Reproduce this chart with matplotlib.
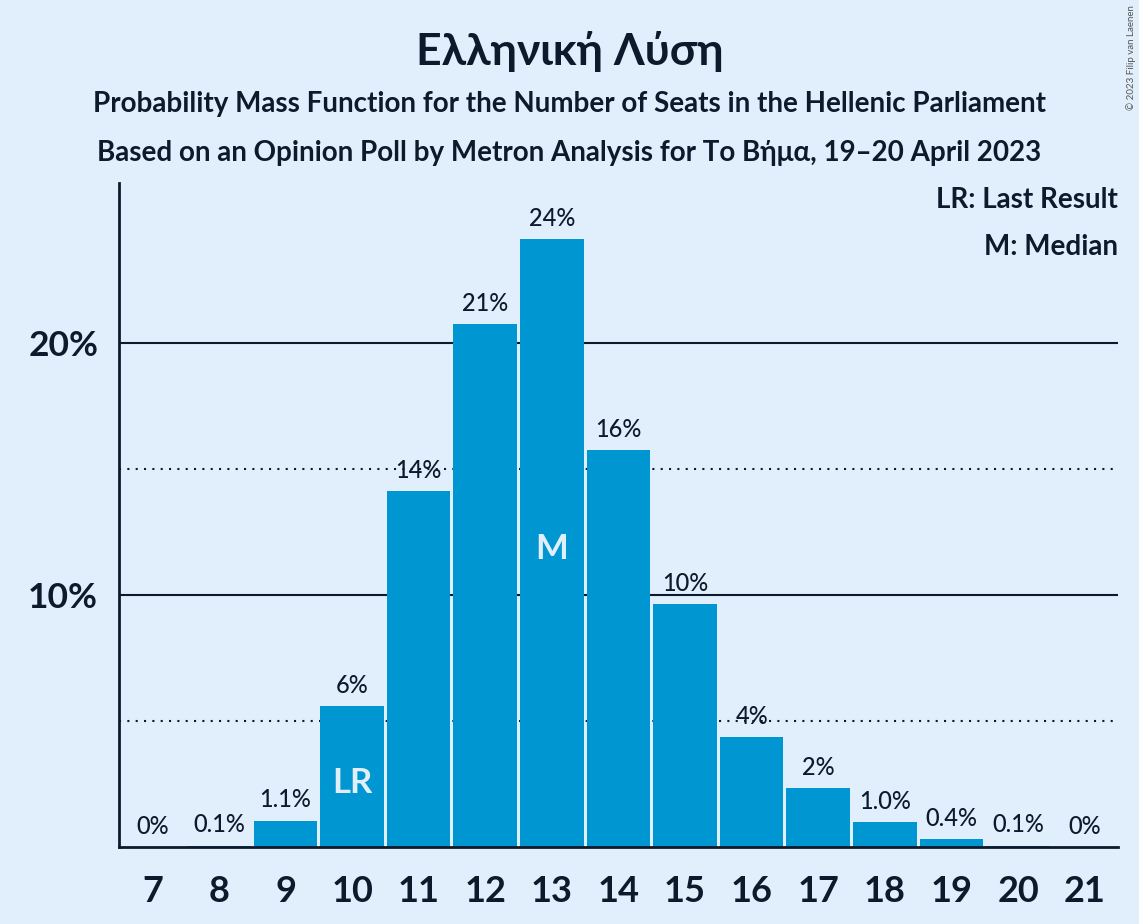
import matplotlib
matplotlib.use("Agg")
import matplotlib.pyplot as plt

seats = [7, 8, 9, 10, 11, 12, 13, 14, 15, 16, 17, 18, 19, 20, 21]
probs = [0.0, 0.06, 1.05, 5.58, 14.13, 20.75, 24.13, 15.75, 9.64, 4.37, 2.34, 0.98, 0.33, 0.06, 0.0]
labels = ["0%", "0.1%", "1.1%", "6%", "14%", "21%", "24%", "16%", "10%", "4%", "2%", "1.0%", "0.4%", "0.1%", "0%"]
last_result_seat = 10
median_seat = 13
ytick_vals = [10, 20]
ytick_labels = ["10%", "20%"]
minor_grid = [5, 15]

BG = "#E1EFFC"
BAR = "#0096D1"
TXT = "#0C1A2B"
FONT = ["Lato", "DejaVu Sans"]

plt.rcParams['font.family'] = FONT

fig = plt.figure(figsize=(11.39, 9.24), dpi=100, facecolor=BG)
ax = fig.add_axes([0.1045, 0.0833, 0.877, 0.7187])
ax.set_facecolor(BG)

for v in ytick_vals:
    ax.axhline(v, color=TXT, lw=1.5, zorder=1)
for v in minor_grid:
    ax.axhline(v, color=TXT, lw=1.5, ls=(0, (1, 3)), zorder=1)

ax.bar(seats, probs, width=0.955, color=BAR, zorder=2)

for s, p, lab in zip(seats, probs, labels):
    ax.annotate(lab, (s, p), xytext=(0, 9.5), textcoords="offset points",
                ha="center", va="baseline", fontsize=17, color=TXT,
                fontweight="medium", zorder=3)

i_lr = seats.index(last_result_seat)
ax.annotate("LR", (last_result_seat, probs[i_lr] / 2), xytext=(0, -4.5),
            textcoords="offset points", ha="center", va="center",
            fontsize=25, color=BG, fontweight="bold", zorder=3)
i_m = seats.index(median_seat)
ax.annotate("M", (median_seat, probs[i_m] / 2), xytext=(0, -4.5),
            textcoords="offset points", ha="center", va="center",
            fontsize=25, color=BG, fontweight="bold", zorder=3)

ax.set_xlim(6.5, 21.5)
ax.set_ylim(0, 26.35)
ax.set_xticks(seats)
ax.set_xticklabels([str(s) for s in seats], fontsize=26, fontweight="bold", color=TXT)
ax.set_yticks(ytick_vals)
ax.set_yticklabels(ytick_labels, fontsize=25.5, fontweight="bold", color=TXT)
ax.tick_params(axis="both", length=0)
ax.tick_params(axis="x", pad=20)
ax.tick_params(axis="y", pad=15)

for side in ["top", "right"]:
    ax.spines[side].set_visible(False)
for side in ["left", "bottom"]:
    ax.spines[side].set_color(TXT)
    ax.spines[side].set_linewidth(2)
    ax.spines[side].set_zorder(4)

ax.text(1.0, 0.975, "LR: Last Result", transform=ax.transAxes, ha="right", va="center",
        fontsize=20, color=TXT, fontweight="bold")
ax.text(1.0, 0.904, "M: Median", transform=ax.transAxes, ha="right", va="center",
        fontsize=20, color=TXT, fontweight="bold")

fig.text(0.5, 1 - 52 / 924, "Ελληνική Λύση", ha="center", va="center",
         fontsize=32, fontweight="bold", color=TXT)
fig.text(0.5, 1 - 104 / 924,
         "Probability Mass Function for the Number of Seats in the Hellenic Parliament",
         ha="center", va="center", fontsize=20, fontweight="bold", color=TXT)
fig.text(0.5, 1 - 153 / 924,
         "Based on an Opinion Poll by Metron Analysis for To Βήμα, 19–20 April 2023",
         ha="center", va="center", fontsize=20, fontweight="bold", color=TXT)
fig.text(1 - 8 / 1139, 1 - 5 / 924, "© 2023 Filip van Laenen", rotation=90,
         ha="center", va="top", fontsize=7, color="#555555")

fig.savefig("out.png", dpi=100, facecolor=BG)
